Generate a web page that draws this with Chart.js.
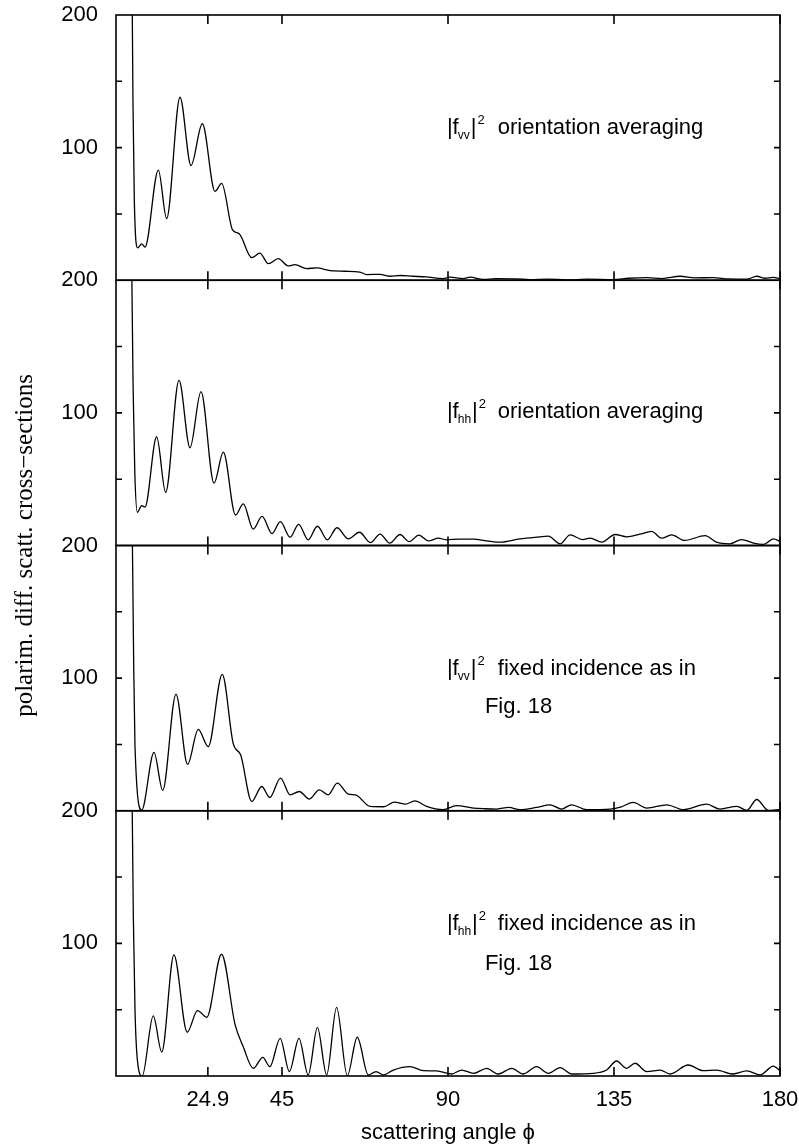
<!DOCTYPE html>
<html>
<head>
<meta charset="utf-8">
<script src="https://cdn.jsdelivr.net/npm/chart.js@4.4.1/dist/chart.umd.min.js"></script>
<style>
  html, body { margin: 0; padding: 0; background: #fff; }
  #wrap { width: 799px; height: 1148px; position: relative; }
</style>
</head>
<body>
<div id="wrap"><canvas id="scatterChart"></canvas></div>
<script>
// scattering angle (deg) and cross-section values, one pair of arrays per panel
const vvAvgAngle = [3.9, 4.42, 4.6, 4.97, 5.87, 6.96, 7.86, 11.48, 13.73, 17.35, 20.33, 23.4, 26.84, 28.64, 31.6, 33.4, 36.8, 39.0, 41.3, 44.0, 46.7, 48.5, 51.7, 54.4, 58.0, 62.0, 66.1, 68.0, 71.6, 74.3, 77.0, 80.5, 84.0, 88.7, 90.5, 94.1, 96.0, 99.5, 103.0, 108.6, 112.2, 117.0, 122.2, 128.0, 134.7, 139.0, 143.9, 148.0, 152.9, 157.0, 161.8, 166.0, 171.0, 173.7, 176.0, 178.1, 180.0];
const vvAvgValue = [420, 200, 135, 60, 24.4, 27.5, 25, 83, 46.5, 138, 86.5, 118, 67, 73, 38, 35, 17, 20.5, 12.5, 16.3, 10.8, 11.8, 8.8, 9.3, 7.3, 6.8, 6.2, 4.3, 4.5, 3.0, 3.6, 3.0, 2.5, 1.3, 2.3, 1.3, 2.3, 0.6, 1.2, 1.0, 0.5, 0.9, 0.2, 0.8, 0.5, 1.5, 2.0, 1.3, 3.0, 1.8, 2.0, 1.0, 0.8, 3.0, 1.5, 2.2, 1.2];

const hhAvgAngle = [3.9, 4.3, 4.7, 5.1, 5.78, 6.96, 7.86, 11.02, 13.46, 17.08, 20.06, 23.04, 26.57, 29.1, 32.4, 34.5, 37.2, 39.6, 42.3, 44.55, 47.2, 49.5, 52.1, 54.6, 57.3, 59.9, 63.0, 66.0, 68.95, 71.6, 74.2, 77.0, 79.5, 82.1, 84.7, 87.4, 89.6, 93.0, 96.9, 100.5, 104.1, 109.5, 114.0, 117.2, 120.4, 123.1, 126.5, 128.5, 131.7, 135.3, 138.5, 142.0, 145.2, 147.9, 150.6, 154.2, 159.7, 162.8, 166.4, 169.6, 172.8, 175.5, 178.2, 180.0];
const hhAvgValue = [420, 200, 110, 55, 25, 30, 29, 82, 40, 124.5, 73.7, 116, 47, 70.4, 23, 31.4, 12.3, 21.9, 9.0, 18, 6.3, 16, 4.3, 14.5, 4.3, 13.4, 5.0, 10, 2.2, 8.6, 1.8, 8.3, 2.9, 7.8, 3.5, 5.5, 4.3, 4.8, 4.8, 3.5, 2.5, 5.0, 6.3, 7.0, 1.3, 8.0, 4.5, 5.5, 2.5, 8.3, 6.5, 8.5, 10.6, 5.5, 8.0, 3.8, 7.5, 2.5, 1.3, 4.5, 1.8, 0.8, 5.0, 3.0];

const vvFixAngle = [3.9, 4.45, 4.8, 5.15, 6.96, 10.3, 12.66, 16.26, 19.4, 22.3, 25.0, 28.8, 31.8, 33.8, 36.8, 39.5, 41.7, 44.6, 47.2, 49.7, 52.4, 55.1, 57.5, 60.0, 63.0, 64.9, 68.9, 72.5, 75.5, 78.5, 81.0, 84.2, 88.7, 92.3, 96.9, 100.0, 103.2, 106.5, 109.5, 114.0, 117.6, 120.8, 123.5, 127.6, 133.9, 137.0, 140.2, 143.9, 149.3, 153.8, 160.1, 163.7, 168.3, 171.0, 173.7, 176.8, 180.0];
const vvFixValue = [420, 200, 110, 48, 0.5, 44, 15.3, 88, 35, 61.4, 48.4, 102.8, 50.4, 42, 7, 18.3, 10, 24.6, 12, 14.5, 8.8, 15.8, 12, 20.8, 12.5, 12.0, 3.3, 3.0, 6.5, 5.0, 7.5, 3.3, 0.8, 3.8, 2, 1.5, 1.3, 2.5, 0.8, 2.5, 4.5, 1.3, 4.5, 0.8, 1.3, 3, 6.3, 2, 4.5, 0.8, 5, 1.3, 3.3, 0.3, 8.5, 0.3, 1.0];

const hhFixAngle = [3.9, 4.4, 4.7, 5.15, 5.8, 7.1, 10.1, 12.4, 15.7, 19.3, 22.1, 24.6, 28.6, 32.3, 34.5, 37.2, 39.8, 41.7, 44.5, 47.0, 49.6, 52.1, 54.6, 57.1, 59.8, 62.7, 65.4, 68.4, 70.5, 72.5, 75.2, 79.7, 83.3, 86.9, 91.0, 93.7, 96.9, 100.5, 103.6, 107.3, 110.4, 114.0, 117.2, 120.4, 123.5, 129.4, 133.0, 135.7, 138.4, 140.7, 143.9, 147.5, 150.2, 155.1, 159.2, 162.8, 167.3, 171.0, 174.6, 178.2, 180.0];
const hhFixValue = [420, 200, 120, 50, 12, 0, 45.3, 18, 91.3, 33, 49.3, 44.3, 91.8, 38.5, 22, 5.8, 14.1, 7, 28.4, 3.3, 28.4, 0.8, 36.7, 0.8, 51.8, 0.2, 29.2, 0.8, 3.3, 0.8, 4.5, 7, 4, 3.8, 1.5, 4.5, 2, 5.8, 1.5, 5.8, 1.5, 7, 2, 6.3, 1.5, 2, 4.5, 11.3, 5.8, 9.6, 3.3, 4.5, 1.5, 8.3, 4, 4.5, 1.5, 3.8, 0.8, 7.5, 4];

const xTickValues = [24.9, 45, 90, 135, 180];
const yTickValues = [0, 50, 100, 150, 200];
const yLabelled = [100, 200];

const panelIds = ['y1', 'y2', 'y3', 'y4'];

// text inside the panels, placed in data coordinates
const panelNotes = [
    {axis: 'y1', sub: 'vv', at: [89.7, 110.5], lines: [{text: 'orientation averaging', x: 103.5, y: 110.5}]},
    {axis: 'y2', sub: 'hh', at: [89.7, 96.0], lines: [{text: 'orientation averaging', x: 103.5, y: 96.0}]},
    {axis: 'y3', sub: 'vv', at: [89.7, 102.4], lines: [{text: 'fixed incidence as in', x: 103.5, y: 102.4}, {text: 'Fig. 18', x: 100.0, y: 73.5}]},
    {axis: 'y4', sub: 'hh', at: [89.7, 110.0], lines: [{text: 'fixed incidence as in', x: 103.5, y: 110.0}, {text: 'Fig. 18', x: 100.0, y: 80.0}]}
];

function toPoints(angles, values) {
    return angles.map((a, i) => ({x: a, y: values[i]}));
}

function makeYScale(weight) {
    return {
        type: 'linear',
        position: 'left',
        stack: 'panels',
        stackWeight: 1,
        weight: weight,
        min: 0,
        max: 200,
        afterBuildTicks: (scale) => { scale.ticks = yTickValues.map(v => ({value: v})); },
        afterFit: (scale) => {
            scale.width = 76;
            scale.paddingTop = 0;
            scale.paddingBottom = 0;
        },
        ticks: {
            color: '#000',
            padding: 18,
            font: {size: 22},
            callback: (v) => yLabelled.includes(v) ? String(v) : ''
        },
        grid: {display: false, drawTicks: false},
        border: {display: false}
    };
}

const framePlugin = {
    id: 'panelFrames',
    beforeDatasetDraw(chart, args) {
        const s = args.meta.yScale;
        const a = chart.chartArea;
        const ctx = chart.ctx;
        ctx.save();
        ctx.beginPath();
        ctx.rect(a.left, s.top, a.right - a.left, s.bottom - s.top);
        ctx.clip();
    },
    afterDatasetDraw(chart) {
        chart.ctx.restore();
    },
    afterDraw(chart) {
        const ctx = chart.ctx;
        const a = chart.chartArea;
        const x = chart.scales.x;
        ctx.save();
        ctx.strokeStyle = '#000';
        ctx.lineWidth = 1.6;
        panelIds.forEach(id => {
            const s = chart.scales[id];
            ctx.strokeRect(a.left, s.top, a.right - a.left, s.bottom - s.top);
            ctx.beginPath();
            [50, 100, 150].forEach(v => {
                const py = s.getPixelForValue(v);
                ctx.moveTo(a.left, py); ctx.lineTo(a.left + 6, py);
                ctx.moveTo(a.right, py); ctx.lineTo(a.right - 6, py);
            });
            xTickValues.forEach(v => {
                const px = x.getPixelForValue(v);
                ctx.moveTo(px, s.top); ctx.lineTo(px, s.top + 9);
                ctx.moveTo(px, s.bottom); ctx.lineTo(px, s.bottom - 9);
            });
            ctx.stroke();
        });

        // panel annotations
        ctx.fillStyle = '#000';
        ctx.textBaseline = 'alphabetic';
        ctx.textAlign = 'left';
        const big = '22px "Liberation Sans", Arial, sans-serif';
        const small = '12px "Liberation Sans", Arial, sans-serif';
        panelNotes.forEach(n => {
            const s = chart.scales[n.axis];
            let cx = x.getPixelForValue(n.at[0]);
            const cy = s.getPixelForValue(n.at[1]);
            ctx.font = big;
            ctx.fillText('|f', cx, cy);
            cx += ctx.measureText('|f').width - 1;
            ctx.font = small;
            ctx.fillText(n.sub, cx, cy + 5);
            cx += ctx.measureText(n.sub).width + 1;
            ctx.font = big;
            ctx.fillText('|', cx, cy);
            cx += ctx.measureText('|').width + 1;
            ctx.font = '13px "Liberation Sans", Arial, sans-serif';
            ctx.fillText('2', cx, cy - 10);
            ctx.font = big;
            n.lines.forEach(l => {
                ctx.fillText(l.text, x.getPixelForValue(l.x), s.getPixelForValue(l.y));
            });
        });
        ctx.restore();
    }
};

function initializeScatterChart() {
    const canvas = document.getElementById('scatterChart');
    Chart.defaults.font.family = '"Liberation Sans", Arial, sans-serif';
    Chart.defaults.color = '#000';

    const series = [
        toPoints(vvAvgAngle, vvAvgValue),
        toPoints(hhAvgAngle, hhAvgValue),
        toPoints(vvFixAngle, vvFixValue),
        toPoints(hhFixAngle, hhFixValue)
    ];

    const data = {
        datasets: series.map((pts, i) => ({
            data: pts,
            yAxisID: panelIds[i],
            borderColor: '#000',
            borderWidth: 1.3,
            pointRadius: 0,
            cubicInterpolationMode: 'monotone',
            fill: false
        }))
    };

    const options = {
        responsive: true,
        maintainAspectRatio: false,
        animation: false,
        layout: {padding: {left: 0, top: 15, right: 19, bottom: 0}},
        plugins: {
            legend: {display: false},
            tooltip: {enabled: false},
            title: {
                display: true,
                position: 'left',
                fullSize: false,
                text: 'polarim. diff. scatt. cross\u2212sections',
                color: '#000',
                font: {family: '"Liberation Serif", "Times New Roman", serif', size: 25, weight: 'normal'},
                padding: {top: 10, bottom: 0}
            }
        },
        scales: {
            x: {
                type: 'linear',
                position: 'bottom',
                min: 0,
                max: 180,
                afterBuildTicks: (scale) => { scale.ticks = xTickValues.map(v => ({value: v})); },
                afterFit: (scale) => {
                    scale.height = 72;
                    scale.paddingLeft = 0;
                    scale.paddingRight = 0;
                },
                ticks: {color: '#000', padding: 11, font: {size: 22}, maxRotation: 0, autoSkip: false},
                grid: {display: false, drawTicks: false},
                border: {display: false},
                title: {
                    display: true,
                    text: 'scattering angle \u03D5',
                    color: '#000',
                    font: {size: 22},
                    padding: {top: 0, bottom: 2}
                }
            },
            y1: makeYScale(4),
            y2: makeYScale(3),
            y3: makeYScale(2),
            y4: makeYScale(1)
        }
    };

    new Chart(canvas, {
        type: 'line',
        data: data,
        options: options,
        plugins: [framePlugin]
    });
}

window.addEventListener('load', initializeScatterChart);
</script>
</body>
</html>
